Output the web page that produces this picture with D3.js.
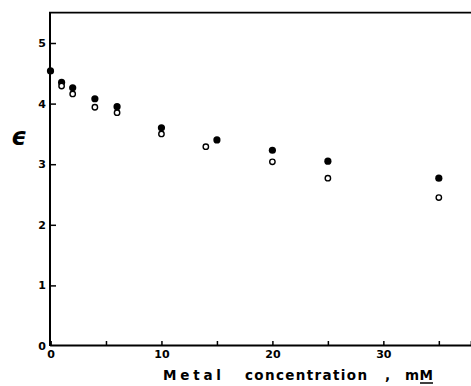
<!DOCTYPE html>
<html>
<head>
<meta charset="utf-8">
<script src="https://cdn.jsdelivr.net/npm/d3@7"></script>
<style>
  body { margin: 0; background: #fff; }
  text { font-family: "DejaVu Sans", sans-serif; font-weight: bold; fill: #000; }
</style>
</head>
<body>
<div id="chart"></div>
<script>
// filled circles
const filledConc = [0, 1, 2, 4, 6, 10, 15, 20, 25, 35];
const filledEps = [4.54, 4.35, 4.26, 4.08, 3.95, 3.60, 3.40, 3.23, 3.05, 2.77];

// open circles
const openConc = [1, 2, 4, 6, 10, 14, 20, 25, 35];
const openEps = [4.29, 4.16, 3.94, 3.85, 3.50, 3.29, 3.04, 2.77, 2.45];

const xTicks = [0, 10, 20, 30];
const xMinorTicks = [5, 15, 25, 35];
const yTicks = [0, 1, 2, 3, 4, 5];

const width = 471, height = 386;

const svg = d3.select("#chart").append("svg")
  .attr("width", width)
  .attr("height", height);

const x = d3.scaleLinear().domain([0, 37.9]).range([50.5, 471]);
const y = d3.scaleLinear().domain([0, 5]).range([346, 43]);

// frame: left axis, top line
svg.append("line")
  .attr("x1", 50).attr("x2", 50).attr("y1", 12.5).attr("y2", 346)
  .attr("stroke", "#000").attr("stroke-width", 2);
svg.append("line")
  .attr("x1", 49).attr("x2", 471).attr("y1", 12.7).attr("y2", 12.7)
  .attr("stroke", "#000").attr("stroke-width", 1.8);

// x axis
const xAxis = svg.append("g")
  .attr("transform", "translate(0,345)")
  .call(d3.axisBottom(x).tickValues(xTicks.concat(xMinorTicks)).tickSize(-4).tickPadding(5)
    .tickFormat(d => xTicks.includes(d) ? d : ""));
xAxis.select(".domain").attr("stroke-width", 1.8);
xAxis.selectAll(".tick line").attr("stroke-width", 1.5)
  .filter(d => d === 0).remove();
xAxis.selectAll(".tick text")
  .attr("font-size", 11).attr("font-family", "DejaVu Sans").attr("font-weight", "bold");

// y axis
const yAxis = svg.append("g")
  .attr("transform", "translate(50,0)")
  .call(d3.axisRight(y).tickValues(yTicks).tickSize(6).tickFormat(""));
yAxis.select(".domain").remove();
yAxis.selectAll(".tick line").attr("stroke-width", 1.5)
  .filter(d => d === 0).remove();

svg.append("g").selectAll("text")
  .data(yTicks)
  .join("text")
  .attr("x", 46)
  .attr("y", d => y(d))
  .attr("dy", "0.36em")
  .attr("text-anchor", "end")
  .attr("font-size", 11)
  .text(d => d);

// epsilon label
svg.append("text")
  .attr("x", 19)
  .attr("y", 137)
  .attr("dy", "0.35em")
  .attr("text-anchor", "middle")
  .attr("font-size", 24)
  .attr("font-family", "DejaVu Serif")
  .attr("font-weight", "normal")
  .attr("font-style", "italic")
  .text("ϵ");

// x axis title, word by word (spaced like the original lettering)
const titleWords = [
  { t: "Metal", x: 163, w: 58 },
  { t: "concentration", x: 245, w: 122 },
  { t: ",", x: 385, w: 4 },
  { t: "mM", x: 405, w: 28 }
];
titleWords.forEach(d => {
  svg.append("text")
    .attr("x", d.x)
    .attr("y", 380)
    .attr("font-size", 13.5)
    .attr("textLength", d.w)
    .attr("lengthAdjust", "spacing")
    .text(d.t);
});
// underline of M (molar)
svg.append("line")
  .attr("x1", 420).attr("x2", 433).attr("y1", 383).attr("y2", 383)
  .attr("stroke", "#000").attr("stroke-width", 1.5);

// points
svg.append("g").selectAll("circle")
  .data(filledConc.map((c, i) => [c, filledEps[i]]))
  .join("circle")
  .attr("cx", d => x(d[0]))
  .attr("cy", d => y(d[1]))
  .attr("r", 3.6)
  .attr("fill", "#000");

svg.append("g").selectAll("circle")
  .data(openConc.map((c, i) => [c, openEps[i]]))
  .join("circle")
  .attr("cx", d => x(d[0]))
  .attr("cy", d => y(d[1]))
  .attr("r", 2.7)
  .attr("fill", "#fff")
  .attr("stroke", "#000")
  .attr("stroke-width", 1.4);
</script>
</body>
</html>
